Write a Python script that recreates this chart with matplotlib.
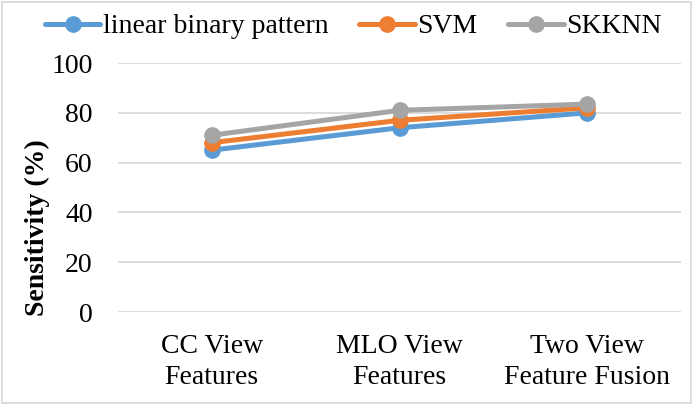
import matplotlib
matplotlib.use('Agg')
from matplotlib import pyplot as plt
from matplotlib.patches import Rectangle

plt.rcParams['font.family'] = ['Liberation Serif', 'DejaVu Serif']

categories = ['CC View\nFeatures', 'MLO View\nFeatures', 'Two View\nFeature Fusion']
lbp = [65, 74, 80]
svm = [68, 77, 82]
skknn = [71, 81, 83.5]
series_names = ['linear binary pattern', 'SVM', 'SKKNN']
colors = ['#5B9BD5', '#ED7D31', '#A5A5A5']

fig = plt.figure(figsize=(6.93, 4.05), dpi=100)
ax = fig.add_axes([0.170, 0.2296, 0.813, 0.6148])

x = list(range(len(categories)))
for vals, name, c in zip([lbp, svm, skknn], series_names, colors):
    ax.plot(x, vals, color=c, lw=3.6, marker='o', markersize=11,
            label=name, solid_capstyle='round')

ax.set_xlim(-0.5, 2.5)
ax.set_ylim(0, 100)
ax.set_yticks(range(0, 101, 20))
ax.set_xticks(x)
ax.set_xticklabels(categories, fontsize=20, linespacing=1.3)
ax.tick_params(axis='y', labelsize=20, length=0, pad=18)
ax.tick_params(axis='x', length=0, pad=16)
ax.grid(axis='y', color='#D9D9D9', lw=1.3)
ax.set_axisbelow(True)
for s in ax.spines.values():
    s.set_visible(False)

ax.set_ylabel('Sensitivity (%)', fontsize=20, fontweight='bold')
ax.yaxis.set_label_coords(-0.12, 0.34)

fig.legend(loc='upper center', bbox_to_anchor=(0.51, 1.0), ncol=3, frameon=False,
           fontsize=20, handlelength=2.0, handletextpad=0.1, columnspacing=1.1,
           borderaxespad=0.1)

fig.patches.append(Rectangle((0.003, 0.004), 0.994, 0.992, transform=fig.transFigure,
                             fill=False, edgecolor='#D9D9D9', lw=1.3))

fig.savefig('out.png', dpi=100)
